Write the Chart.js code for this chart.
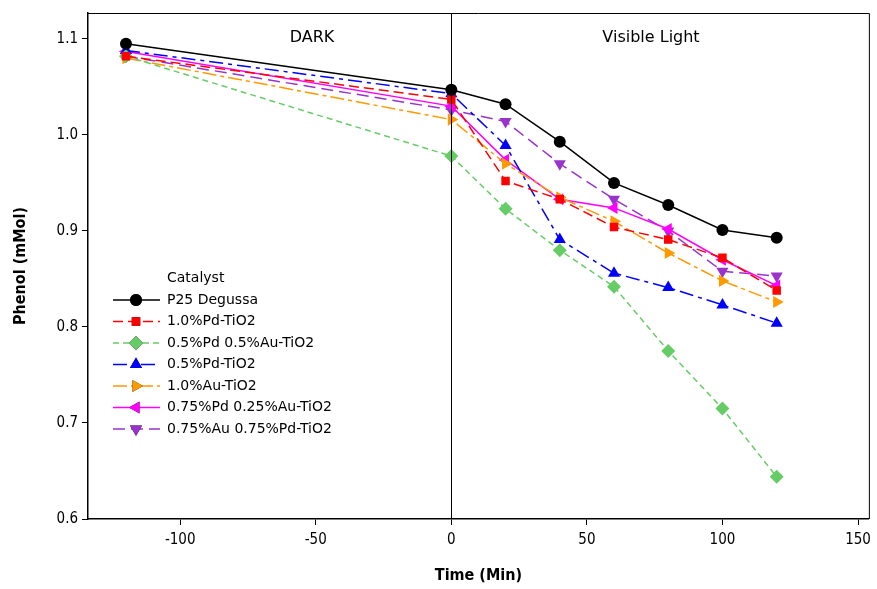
<!DOCTYPE html>
<html>
<head>
<meta charset="utf-8">
<script src="https://cdn.jsdelivr.net/npm/chart.js@4.4.1/dist/chart.umd.min.js"></script>
<style>
  html, body { margin: 0; padding: 0; background: #fff; }
  #wrap { width: 877px; height: 589px; }
</style>
</head>
<body>
<div id="wrap"><canvas id="chart" width="877" height="589"></canvas></div>
<script>
// データ（時間 / フェノール濃度）
const times = [-120, 0, 20, 40, 60, 80, 100, 120];
const p25 = [1.095, 1.047, 1.032, 0.993, 0.950, 0.927, 0.901, 0.893];
const pd10 = [1.082, 1.037, 0.952, 0.933, 0.904, 0.891, 0.872, 0.838];
const pd05au05 = [1.082, 0.978, 0.923, 0.880, 0.842, 0.775, 0.715, 0.644];
const pd05 = [1.088, 1.043, 0.989, 0.891, 0.856, 0.841, 0.823, 0.804];
const au10 = [1.080, 1.016, 0.970, 0.935, 0.910, 0.877, 0.848, 0.826];
const pd075au025 = [1.087, 1.030, 0.974, 0.933, 0.924, 0.902, 0.870, 0.843];
const au075pd075 = [1.082, 1.026, 1.014, 0.970, 0.933, 0.900, 0.858, 0.853];
const xTicks = [-100, -50, 0, 50, 100, 150];
const yTicks = [0.6, 0.7, 0.8, 0.9, 1.0, 1.1];
const legendTitle = 'Catalyst';

const FONT = '"DejaVu Sans Condensed", "DejaVu Sans", sans-serif';
const FONT_WIDE = '"DejaVu Sans", sans-serif';

function series(label, values, color, dash, style, rotation, radius) {
    return {
        label: label,
        data: times.map((t, i) => ({ x: t, y: values[i] })),
        borderColor: color,
        backgroundColor: color,
        borderWidth: 1.5,
        borderDash: dash,
        pointStyle: style,
        rotation: rotation,
        pointRadius: radius,
        pointBorderWidth: 0,
        tension: 0,
    };
}

const datasets = [
    series('P25 Degussa', p25, '#000000', [], 'circle', 0, 6),
    series('1.0%Pd-TiO2', pd10, '#ff0000', [10, 5], 'rect', 0, 6),
    series('0.5%Pd 0.5%Au-TiO2', pd05au05, '#66cc66', [6, 4], 'rectRot', 0, 7),
    series('0.5%Pd-TiO2', pd05, '#0000ff', [14, 5, 4, 5], 'triangle', 0, 7),
    series('1.0%Au-TiO2', au10, '#ff9900', [14, 4, 4, 4], 'triangle', 90, 7),
    series('0.75%Pd 0.25%Au-TiO2', pd075au025, '#ff00ff', [], 'triangle', -90, 7),
    series('0.75%Au 0.75%Pd-TiO2', au075pd075, '#9933cc', [12, 6], 'triangle', 180, 7),
];

// 枠・x=0の縦線・DARK/Visible Light・凡例
const decorPlugin = {
    id: 'decor',
    afterDatasetsDraw(chart) {
        const { ctx, chartArea, scales } = chart;
        ctx.save();
        ctx.strokeStyle = '#000';
        ctx.lineWidth = 1;
        ctx.setLineDash([]);
        ctx.beginPath();
        ctx.moveTo(chartArea.left, chartArea.top + 0.5);
        ctx.lineTo(chartArea.right + 0.5, chartArea.top + 0.5);
        ctx.lineTo(chartArea.right + 0.5, chartArea.bottom);
        ctx.stroke();

        const x0 = Math.round(scales.x.getPixelForValue(0)) + 0.5;
        ctx.beginPath();
        ctx.moveTo(x0, chartArea.top);
        ctx.lineTo(x0, chartArea.bottom);
        ctx.stroke();

        ctx.fillStyle = '#000';
        ctx.font = '16px ' + FONT_WIDE;
        ctx.textAlign = 'center';
        ctx.textBaseline = 'middle';
        ctx.fillText('DARK', 312, 38);
        ctx.fillText('Visible Light', 651, 38);

        // 凡例
        ctx.textAlign = 'left';
        ctx.font = '14px ' + FONT_WIDE;
        ctx.fillText(legendTitle, 167, 278);
        chart.data.datasets.forEach((ds, i) => {
            const y = 300 + i * 21.5;
            ctx.strokeStyle = ds.borderColor;
            ctx.lineWidth = 1.5;
            ctx.setLineDash(ds.borderDash);
            ctx.beginPath();
            ctx.moveTo(113, y);
            ctx.lineTo(160, y);
            ctx.stroke();
            ctx.setLineDash([]);
            Chart.helpers.drawPoint(ctx, {
                pointStyle: ds.pointStyle,
                rotation: ds.rotation,
                radius: ds.pointRadius,
                borderWidth: 0,
            }, 136, y);
            ctx.fillStyle = ds.backgroundColor;
            ctx.fill();
            ctx.fillStyle = '#000';
            ctx.fillText(ds.label, 167, y);
        });
        ctx.restore();
    }
};

new Chart(document.getElementById('chart'), {
    type: 'line',
    data: { datasets: datasets },
    plugins: [decorPlugin],
    options: {
        responsive: false,
        animation: false,
        devicePixelRatio: 1,
        layout: { padding: { top: 12, right: 5, left: 0, bottom: 0 } },
        plugins: {
            legend: { display: false },
            tooltip: { enabled: false },
        },
        scales: {
            x: {
                type: 'linear',
                min: -134,
                max: 154,
                afterBuildTicks: (scale) => { scale.ticks = xTicks.map(v => ({ value: v })); },
                afterFit: (scale) => { scale.height = 70; },
                grid: { drawOnChartArea: false, drawTicks: true, tickLength: 6, color: '#000' },
                border: { display: true, color: '#000', width: 1.5 },
                ticks: {
                    color: '#000',
                    font: { size: 15, family: FONT },
                    padding: 6,
                    maxRotation: 0,
                    callback: (v) => String(v),
                },
                title: {
                    display: true,
                    text: 'Time (Min)',
                    color: '#000',
                    font: { size: 16, weight: 'bold', family: FONT },
                    padding: { top: 10 },
                },
            },
            y: {
                type: 'linear',
                min: 0.6,
                max: 1.127,
                afterBuildTicks: (scale) => { scale.ticks = yTicks.map(v => ({ value: v })); },
                afterFit: (scale) => { scale.width = 88; },
                grid: { drawOnChartArea: false, drawTicks: true, tickLength: 6, color: '#000' },
                border: { display: true, color: '#000', width: 1.5 },
                ticks: {
                    color: '#000',
                    font: { size: 15, family: FONT },
                    padding: 4,
                    callback: (v) => v.toFixed(1),
                },
                title: {
                    display: true,
                    text: 'Phenol (mMol)',
                    color: '#000',
                    font: { size: 16, weight: 'bold', family: FONT },
                    padding: { top: 11, bottom: 4 },
                },
            },
        },
    },
});
</script>
</body>
</html>
